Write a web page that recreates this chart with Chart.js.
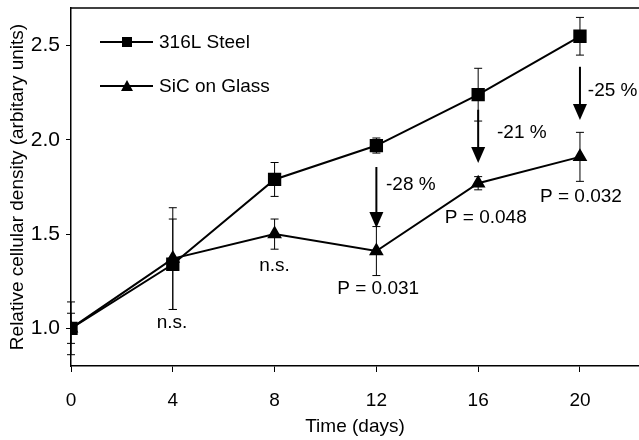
<!DOCTYPE html>
<html>
<head>
<meta charset="utf-8">
<script src="https://cdn.jsdelivr.net/npm/chart.js@4.4.0/dist/chart.umd.min.js"></script>
<style>
  html, body { margin: 0; padding: 0; background: #fff; }
  #wrap { width: 639px; height: 440px; }
</style>
</head>
<body>
<div id="wrap"><canvas id="stage" width="639" height="440"></canvas></div>
<script>
// data
const days = [0, 4, 8, 12, 16, 20];
const steel = [1.00, 1.34, 1.79, 1.97, 2.24, 2.55];
const steelErr = [0.08, 0.24, 0.09, 0.04, 0.14, 0.10];
const sic = [1.00, 1.37, 1.50, 1.41, 1.77, 1.91];
const sicErr = [0.14, 0.27, 0.08, 0.13, 0.035, 0.13];
const seriesNames = ['316L Steel', 'SiC on Glass'];
const xTicks = [0, 4, 8, 12, 16, 20];
const yTicks = [1.0, 1.5, 2.0, 2.5];

// arrows: x, from, to (data units)
const arrows = [
  { x: 12, from: 1.856, to: 1.532 },
  { x: 16, from: 2.16, to: 1.878 },
  { x: 20, from: 2.388, to: 2.106 }
];
// texts: label, x, y, align
const notes = [
  { text: '-28 %', x: 12.38, y: 1.76, align: 'left' },
  { text: '-21 %', x: 16.74, y: 2.04, align: 'left' },
  { text: '-25 %', x: 20.31, y: 2.26, align: 'left' },
  { text: 'n.s.', x: 3.97, y: 1.027, align: 'center' },
  { text: 'n.s.', x: 8.0, y: 1.33, align: 'center' },
  { text: 'P = 0.031', x: 12.07, y: 1.21, align: 'center' },
  { text: 'P = 0.048', x: 16.3, y: 1.585, align: 'center' },
  { text: 'P = 0.032', x: 20.04, y: 1.70, align: 'center' }
];

const FONT = '"Liberation Sans", Arial, sans-serif';

function toXY(xs, ys) {
  return xs.map((x, i) => ({ x: x, y: ys[i] }));
}

// error bars, arrows, notes, legend, top frame
const extras = {
  id: 'extras',
  afterDatasetsDraw(chart) {
    const ctx = chart.ctx;
    const xs = chart.scales.x, ys = chart.scales.y;
    const area = chart.chartArea;
    ctx.save();
    ctx.strokeStyle = '#000';
    ctx.fillStyle = '#000';

    // error bars
    ctx.lineWidth = 1;
    [[steel, steelErr], [sic, sicErr]].forEach(([vals, errs]) => {
      vals.forEach((v, i) => {
        const px = xs.getPixelForValue(days[i]);
        const top = ys.getPixelForValue(v + errs[i]);
        const bot = ys.getPixelForValue(v - errs[i]);
        ctx.beginPath();
        ctx.moveTo(px, top); ctx.lineTo(px, bot);
        ctx.moveTo(px - 4, top); ctx.lineTo(px + 4, top);
        ctx.moveTo(px - 4, bot); ctx.lineTo(px + 4, bot);
        ctx.stroke();
      });
    });

    // arrows
    arrows.forEach(a => {
      const px = xs.getPixelForValue(a.x);
      const y0 = ys.getPixelForValue(a.from);
      const y1 = ys.getPixelForValue(a.to);
      ctx.lineWidth = 2;
      ctx.beginPath();
      ctx.moveTo(px, y0); ctx.lineTo(px, y1 - 14);
      ctx.stroke();
      ctx.beginPath();
      ctx.moveTo(px - 7, y1 - 16);
      ctx.lineTo(px + 7, y1 - 16);
      ctx.lineTo(px, y1);
      ctx.closePath();
      ctx.fill();
    });

    // notes
    ctx.font = '19px ' + FONT;
    ctx.textBaseline = 'middle';
    notes.forEach(n => {
      ctx.textAlign = n.align;
      ctx.fillText(n.text, xs.getPixelForValue(n.x), ys.getPixelForValue(n.y));
    });

    // legend
    const rows = [{ y: 42, shape: 'rect' }, { y: 86, shape: 'triangle' }];
    rows.forEach((r, i) => {
      ctx.lineWidth = 2;
      ctx.beginPath();
      ctx.moveTo(100, r.y); ctx.lineTo(153, r.y);
      ctx.stroke();
      if (r.shape === 'rect') {
        ctx.fillRect(122, r.y - 5, 10, 10);
      } else {
        ctx.beginPath();
        ctx.moveTo(127, r.y - 6);
        ctx.lineTo(133, r.y + 5);
        ctx.lineTo(121, r.y + 5);
        ctx.closePath();
        ctx.fill();
      }
      ctx.textAlign = 'left';
      ctx.fillText(seriesNames[i], 159, r.y + 1);
    });

    // top frame line
    ctx.lineWidth = 1.5;
    ctx.beginPath();
    ctx.moveTo(area.left, area.top);
    ctx.lineTo(area.right, area.top);
    ctx.stroke();
    ctx.restore();
  }
};

new Chart(document.getElementById('stage'), {
  type: 'line',
  data: {
    datasets: [
      {
        label: seriesNames[0],
        data: toXY(days, steel),
        borderColor: '#000',
        backgroundColor: '#000',
        borderWidth: 2,
        pointStyle: 'rect',
        pointRadius: 8,
        pointHoverRadius: 8,
        tension: 0
      },
      {
        label: seriesNames[1],
        data: toXY(days, sic),
        borderColor: '#000',
        backgroundColor: '#000',
        borderWidth: 2,
        pointStyle: 'triangle',
        pointRadius: 6.5,
        pointHoverRadius: 6.5,
        tension: 0
      }
    ]
  },
  options: {
    responsive: false,
    animation: false,
    devicePixelRatio: 1,
    layout: { autoPadding: false, padding: { left: 0, right: 0, top: 8, bottom: 0 } },
    plugins: {
      legend: { display: false },
      tooltip: { enabled: false }
    },
    scales: {
      x: {
        type: 'linear',
        min: 0,
        max: 22.32,
        afterBuildTicks: s => { s.ticks = xTicks.map(v => ({ value: v })); },
        afterFit: s => { s.height = 74; s.paddingLeft = 0; s.paddingRight = 0; },
        grid: { drawOnChartArea: false, drawTicks: true, tickLength: 6, color: '#000', lineWidth: 1 },
        border: { display: true, color: '#000', width: 1.5 },
        ticks: { color: '#000', font: { family: FONT, size: 19 }, padding: 17, maxRotation: 0 },
        title: { display: true, text: 'Time (days)', color: '#000', font: { family: FONT, size: 19 }, padding: { top: 0, bottom: 2 } }
      },
      y: {
        min: 0.8,
        max: 2.7,
        afterBuildTicks: s => { s.ticks = yTicks.map(v => ({ value: v })); },
        afterFit: s => { s.width = 71; s.paddingTop = 0; s.paddingBottom = 0; },
        grid: { drawOnChartArea: false, drawTicks: true, tickLength: 5, color: '#000', lineWidth: 1 },
        border: { display: true, color: '#000', width: 1.5 },
        ticks: { color: '#000', font: { family: FONT, size: 21 }, padding: 6, callback: v => v.toFixed(1) },
        title: { display: true, text: 'Relative cellular density (arbitary units)', color: '#000', font: { family: FONT, size: 19 }, padding: { top: 6, bottom: 0 } }
      }
    }
  },
  plugins: [extras]
});
</script>
</body>
</html>
